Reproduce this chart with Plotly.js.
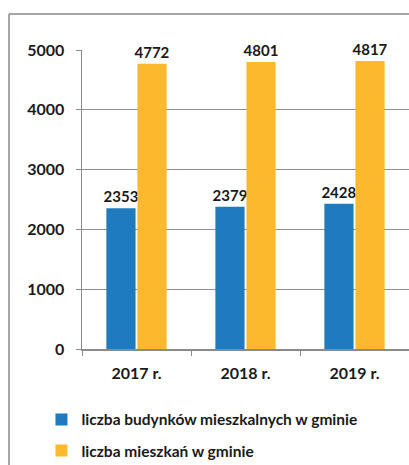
<!DOCTYPE html>
<html><head><meta charset="utf-8">
<script src="https://cdn.plot.ly/plotly-3.0.1.min.js"></script>
<style>html,body{margin:0;padding:0;background:#fff}#chart{width:409px;height:465px}</style>
</head><body><div id="chart"></div>
<script>
const categories = ['2017 r.', '2018 r.', '2019 r.'];
const buildings = [2353, 2379, 2428];
const dwellings = [4772, 4801, 4817];
const seriesNames = ['liczba budynków mieszkalnych w gminie', 'liczba mieszkań w gminie'];
const yTicks = [0, 1000, 2000, 3000, 4000, 5000];

const FONT = 'Lato, Carlito, Calibri, sans-serif';
const txt = {family: FONT, size: 15, color: '#1a1a1a', weight: 'bold'};

const traces = [
  {type: 'bar', x: categories, y: buildings, name: seriesNames[0], legendgroup: 'a',
   marker: {color: '#1f7bbd'}, text: buildings.map(String), textposition: 'outside',
   constraintext: 'none', textfont: txt, cliponaxis: false, hoverinfo: 'none'},
  {type: 'bar', x: categories, y: dwellings, name: seriesNames[1], legendgroup: 'b',
   marker: {color: '#fdb92e'}, text: dwellings.map(String), textposition: 'outside',
   constraintext: 'none', textfont: txt, cliponaxis: false, hoverinfo: 'none'}
];

const layout = {
  width: 409, height: 465,
  margin: {l: 82, r: 0, t: 50, b: 116, autoexpand: false},
  paper_bgcolor: '#fff', plot_bgcolor: '#fff',
  font: {family: FONT, size: 16, color: '#1a1a1a'},
  barmode: 'group', bargap: 0.43, bargroupgap: 0.06,
  showlegend: true,
  legend: {orientation: 'v', x: -0.124, xanchor: 'left', y: -0.18, yanchor: 'top',
           font: {family: FONT, size: 15.5, color: '#1a1a1a', weight: 'bold'}, tracegroupgap: 8,
           itemwidth: 30, traceorder: 'grouped', bgcolor: 'rgba(0,0,0,0)'},
  xaxis: {type: 'category', showline: true, linecolor: '#8a8a8a', linewidth: 1.5,
          ticks: 'outside', tickson: 'boundaries', ticklen: 5, tickcolor: '#8a8a8a',
          ticklabelstandoff: 9,
          tickfont: {family: FONT, size: 16, color: '#1a1a1a', weight: 'bold'},
          showgrid: false, fixedrange: true},
  yaxis: {range: [0, 5000], tickvals: yTicks, showline: true, linecolor: '#8a8a8a', linewidth: 1.5,
          ticks: 'outside', ticklen: 5, tickcolor: '#8a8a8a', ticklabelstandoff: 8,
          tickfont: {family: FONT, size: 16, color: '#1a1a1a', weight: 'bold'},
          showgrid: true, gridcolor: '#8f8f8f', gridwidth: 1, zeroline: false, fixedrange: true},
  shapes: [
    {type: 'line', xref: 'paper', yref: 'paper', x0: -0.2232, x1: -0.2232, y0: 1.1204, y1: -0.45,
     line: {color: '#8a8a8a', width: 1.5}},
    {type: 'line', xref: 'paper', yref: 'paper', x0: -0.2232, x1: 1.05, y0: 1.1204, y1: 1.1204,
     line: {color: '#8a8a8a', width: 1.5}}
  ]
};

Plotly.newPlot('chart', traces, layout, {staticPlot: true, displayModeBar: false});
</script></body></html>
